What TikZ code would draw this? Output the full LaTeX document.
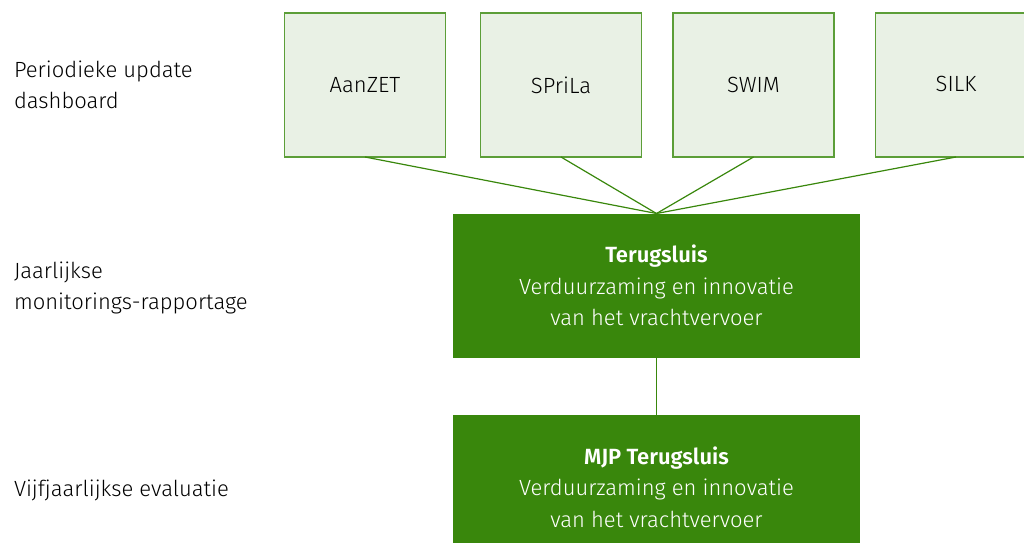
\documentclass[tikz,border=0pt]{standalone}
\usepackage{fontspec}
\setmainfont{Fira Sans}[UprightFont=* Light, BoldFont=* SemiBold]
\definecolor{rogreen}{HTML}{39870C}
\definecolor{lightfill}{HTML}{E9F1E5}
\definecolor{lightborder}{HTML}{5C9E38}
\begin{document}
\begin{tikzpicture}[x=1pt,y=-1pt,
  every node/.style={inner sep=0pt,outer sep=0pt},
  lightbox/.style={draw=lightborder,fill=lightfill,line width=1.3pt,minimum width=161pt,minimum height=144pt,font=\fontsize{22}{26}\selectfont,text=black},
  darkbox/.style={fill=rogreen,minimum width=407pt,minimum height=144pt,text=white,align=center,font=\fontsize{22}{31.5}\selectfont},
  lbl/.style={anchor=base west,align=left,font=\fontsize{22}{31}\selectfont,text=black},
  conn/.style={draw=rogreen,line width=1.2pt}]
\useasboundingbox (0,0) rectangle (1024,542);
\node[lightbox] (aanzet) at (365,85) {AanZET};
\node[lightbox] (sprila) at (561,85) {SPriLa};
\node[lightbox] (swim) at (753.5,85) {SWIM};
\node[lightbox] (silk) at (956,85) {\raisebox{2pt}{SILK}};
\node[darkbox] (teru) at (656.5,285.5) {\textbf{Terugsluis}\\Verduurzaming en innovatie\\van het vrachtvervoer};
\node[darkbox] (mjp) at (656.5,487) {\textbf{MJP Terugsluis}\\Verduurzaming en innovatie\\van het vrachtvervoer};
\coordinate (hub) at (656.5,213.5);
\foreach \n in {aanzet,sprila,swim,silk} \draw[conn] (\n.south) -- (hub);
\draw[conn] (teru.south) -- (mjp.north);
\node[lbl] (l1) at (14,108) {Periodieke update\\dashboard};
\node[lbl] (l2) at (14,309) {Jaarlijkse\\monitorings-rapportage};
\node[lbl] (l3) at (14,496) {Vijfjaarlijkse evaluatie};
\end{tikzpicture}
\end{document}
